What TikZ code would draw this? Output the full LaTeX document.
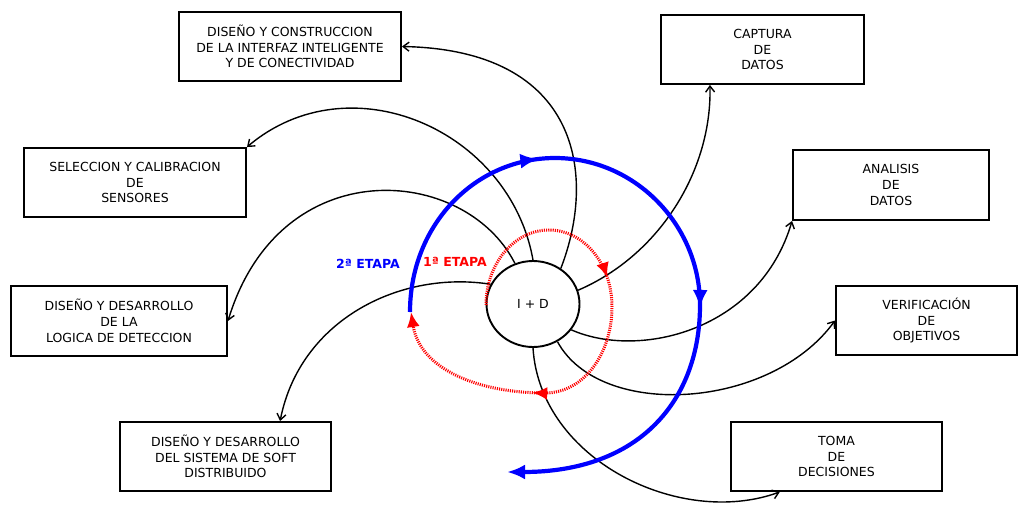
\documentclass[tikz,border=0pt]{standalone}
\usepackage{fontspec}
\setmainfont{DejaVu Sans}
\usetikzlibrary{arrows.meta,shapes.geometric,decorations.markings}

\begin{document}
\begin{tikzpicture}[x=1pt, y=-1pt, >={Straight Barb[length=6pt,width=9pt]},
  box/.style={draw, line width=1.9pt, align=center, inner sep=0pt, font=\fontsize{12.5}{15.7}\selectfont},
  link/.style={->, line width=1.4pt},
  etapa/.style={font=\fontsize{12.5}{15}\selectfont\bfseries}]
  \useasboundingbox (0,0) rectangle (1018,504);
  \node[box, minimum width=222, minimum height=69] (construccion) at (290,46.5) {DISEÑO Y CONSTRUCCION\\DE LA INTERFAZ INTELIGENTE\\Y DE CONECTIVIDAD};
  \node[box, minimum width=222, minimum height=69] (sensores) at (135,182.5) {SELECCION Y CALIBRACION\\DE\\SENSORES};
  \node[box, minimum width=216, minimum height=70] (logica) at (119,321) {DISEÑO Y DESARROLLO\\DE LA\\LOGICA DE DETECCION};
  \node[box, minimum width=211, minimum height=69] (soft) at (225.5,456.5) {DISEÑO Y DESARROLLO\\DEL SISTEMA DE SOFT\\DISTRIBUIDO};
  \node[box, minimum width=203, minimum height=69] (captura) at (762.5,49.5) {CAPTURA\\DE\\DATOS};
  \node[box, minimum width=196, minimum height=70] (analisis) at (891,185) {ANALISIS\\DE\\DATOS};
  \node[box, minimum width=181, minimum height=69] (verificacion) at (926.5,320.5) {VERIFICACIÓN\\DE\\OBJETIVOS};
  \node[box, minimum width=211, minimum height=69] (toma) at (836.5,456.5) {TOMA\\DE\\DECISIONES};
  \node[draw, ellipse, line width=1.9pt, minimum width=93, minimum height=86, inner sep=0pt, font=\fontsize{12.5}{15}\selectfont] (id) at (533,304) {I + D};
  \draw[link] (id.52) .. controls (597,175) and (580,50) .. (construccion.east);
  \draw[link] (id.90) .. controls (510,130) and (350,60) .. (sensores.north east);
  \draw[link] (id.114) .. controls (465,165) and (280,150) .. (logica.east);
  \draw[link] (id.155) .. controls (400,270) and (300,320) .. (soft.33);
  \draw[link] (id.17) .. controls (660,255) and (712,170) .. (captura.214);
  \draw[link] (id.-34) .. controls (640,360) and (760,330) .. (analisis.south west);
  \draw[link] (id.-57) .. controls (600,420) and (770,410) .. (verificacion.west);
  \draw[link] (id.-90) .. controls (540,460) and (680,528) .. (toma.212);
  \draw[red, line width=3pt, dash pattern=on 1.1pt off 1.1pt, -{Latex[length=15pt,width=13pt]}, postaction={decorate}, decoration={markings, mark=at position 0.37 with {\arrow{Latex[length=15pt,width=13pt]}}, mark=at position 0.69 with {\arrow{Latex[length=15pt,width=13pt]}}}] (486,305) .. controls (486,264) and (514,230) .. (549,230) .. controls (584,230) and (612,264) .. (612,307) .. controls (612,352) and (585,393) .. (545,393) .. controls (480,393) and (420,370) .. (411,312);
  \draw[blue, line width=4.2pt, -{Latex[length=18pt,width=15pt]}, postaction={decorate}, decoration={markings, mark=at position 0.29 with {\arrow{Latex[length=18pt,width=15pt]}}, mark=at position 0.62 with {\arrow{Latex[length=18pt,width=15pt]}}}] (410,312) .. controls (410,225) and (475,158) .. (555,158) .. controls (635,158) and (700,225) .. (700,305) .. controls (700,400) and (640,472) .. (507,472);
  \node[etapa, text=blue] (etapa2) at (368,264) {2ª ETAPA};
  \node[etapa, text=red] (etapa1) at (455,262) {1ª ETAPA};
\end{tikzpicture}
\end{document}
